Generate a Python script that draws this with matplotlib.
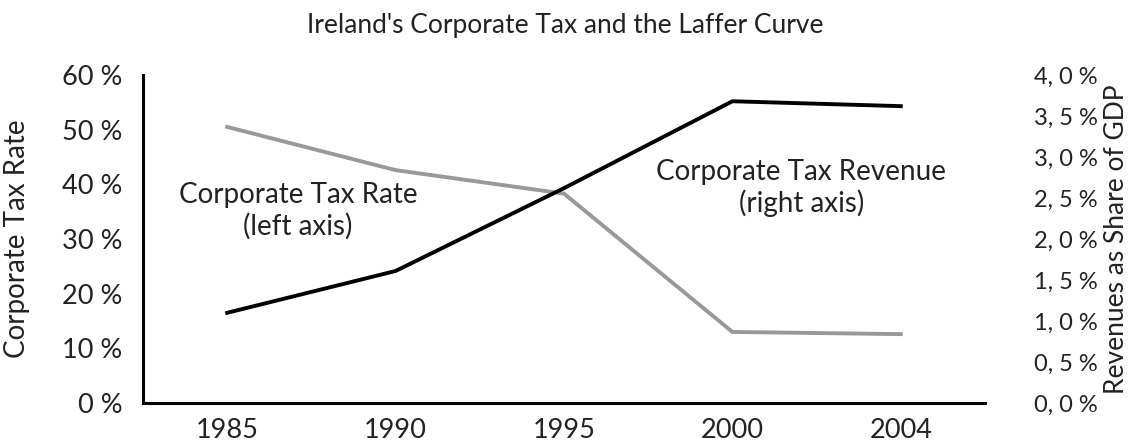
import matplotlib.pyplot as plt
from matplotlib.ticker import FuncFormatter

years = ["1985", "1990", "1995", "2000", "2004"]
tax_rate = [50.5, 42.6, 38.3, 13.0, 12.6]          # %, left axis
tax_revenue = [1.10, 1.61, 2.62, 3.68, 3.62]       # % of GDP, right axis

plt.rcParams['font.family'] = ['Lato', 'DejaVu Sans']
txt = '#222222'
fs = 19.5

fig = plt.figure(figsize=(11.3, 4.46), dpi=100)
ax1 = fig.add_axes([143 / 1130, 1 - 403 / 446, (985 - 143) / 1130, (403 - 75) / 446])
ax2 = ax1.twinx()

x = range(len(years))
ax1.plot(x, tax_rate, color='#999999', lw=2.8, solid_joinstyle='miter')
ax2.plot(x, tax_revenue, color='black', lw=2.8, solid_joinstyle='miter')

ax1.set_xlim(-0.5, 4.5)
ax1.set_ylim(0, 60)
ax2.set_ylim(0, 4.0)
ax1.set_xticks(list(x))
ax1.set_xticklabels(years)
ax1.set_yticks(range(0, 61, 10))
ax2.set_yticks([i * 0.5 for i in range(9)])
ax1.yaxis.set_major_formatter(FuncFormatter(lambda v, p: f"{v:.0f} %"))
ax2.yaxis.set_major_formatter(FuncFormatter(lambda v, p: f"{v:.1f}".replace('.', ', ') + " %"))

for a in (ax1, ax2):
    a.tick_params(length=0, labelsize=fs, labelcolor=txt)
    for s in ('top', 'right'):
        a.spines[s].set_visible(False)
ax2.spines['left'].set_visible(False)
ax2.spines['bottom'].set_visible(False)
ax1.spines['left'].set_linewidth(2.2)
ax1.spines['bottom'].set_linewidth(2.2)
ax1.tick_params(axis='y', pad=15)
ax1.tick_params(axis='x', pad=11)
ax2.tick_params(axis='y', pad=35, labelsize=17)

ax1.set_ylabel("Corporate Tax Rate", fontsize=20, color=txt)
ax1.yaxis.set_label_coords(-0.134, 0.5)
ax2.set_ylabel("Revenues as Share of GDP", fontsize=19, color=txt,
               rotation=90, va='center', ha='center')
ax2.yaxis.set_label_coords(1.156, 0.5)

ax1.text(0.42, 35.1, "Corporate Tax Rate\n(left axis)", ha='center', va='center',
         fontsize=20, color=txt, linespacing=1.2)
ax1.text(3.41, 39.3, "Corporate Tax Revenue\n(right axis)", ha='center', va='center',
         fontsize=20, color=txt, linespacing=1.2)

fig.text(565 / 1130, 1 - 25 / 446, "Ireland's Corporate Tax and the Laffer Curve",
         ha='center', va='center', fontsize=19, color=txt)

fig.savefig("out.png", dpi=100)
